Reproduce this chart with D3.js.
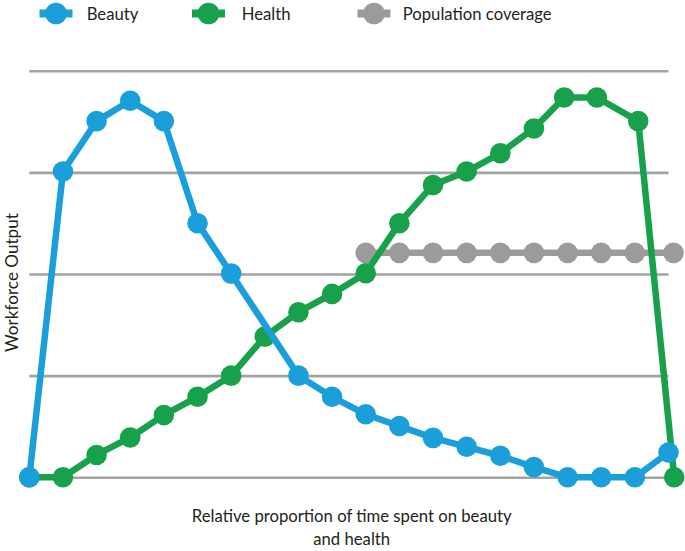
<!DOCTYPE html>
<html>
<head>
<meta charset="utf-8">
<script src="https://cdn.jsdelivr.net/npm/d3@7"></script>
<style>
  html, body { margin: 0; padding: 0; background: #fff; }
  svg { display: block; }
  text { font-family: Lato, "Open Sans", sans-serif; fill: #231f20; }
</style>
</head>
<body>
<svg id="chart" width="685" height="551"></svg>
<script>
// ---- data ----
const seriesNames = ["Beauty", "Health", "Population coverage"];
const seriesColors = ["#1a9fda", "#17a14b", "#9b9b9b"];

const beautyX = [0, 1, 2, 3, 4, 5, 6, 8, 9, 10, 11, 12, 13, 14, 15, 16, 17, 18, 19];
const beautyY = [0, 75.2, 87.6, 92.6, 87.6, 62.5, 50.1, 25, 19.8, 15.5, 12.6, 9.7, 7.5, 5.3, 2.5, 0, 0, 0, 6.1];

const healthX = [0, 1, 2, 3, 4, 5, 6, 7, 8, 9, 10, 11, 12, 13, 14, 15, 15.9, 16.87, 18.1, 19.17];
const healthY = [0, 0, 5.5, 9.8, 15.3, 19.8, 25, 34.6, 40.6, 45.1, 50.2, 62.5, 71.9, 75.2, 79.7, 85.8, 93.4, 93.4, 87.6, 0];

const popX = [10, 11, 12, 13, 14, 15, 16, 17, 18, 19.15];
const popY = [55.2, 55.2, 55.2, 55.2, 55.2, 55.2, 55.2, 55.2, 55.2, 55.2];

const gridTicks = [0, 25, 50, 75, 100];
const xTitleLines = ["Relative proportion of time spent on beauty", "and health"];
const yTitle = "Workforce Output";

// ---- layout ----
const svg = d3.select("#chart");
const x = d3.scaleLinear().domain([0, 19]).range([29.3, 668.5]);
const y = d3.scaleLinear().domain([0, 100]).range([477.3, 70.7]);

// gridlines via axis
const yAxis = d3.axisLeft(y).tickValues(gridTicks).tickSize(-(x.range()[1] - x.range()[0])).tickFormat("");
const gAxis = svg.append("g").attr("transform", `translate(${x.range()[0]},0)`).call(yAxis);
gAxis.select(".domain").remove();
gAxis.selectAll(".tick line").attr("stroke", "#a3a3a3").attr("stroke-width", 2.6);

const series = [
  { name: seriesNames[2], color: seriesColors[2], xs: popX, ys: popY },
  { name: seriesNames[1], color: seriesColors[1], xs: healthX, ys: healthY },
  { name: seriesNames[0], color: seriesColors[0], xs: beautyX, ys: beautyY }
];

const line = d3.line().x(d => x(d[0])).y(d => y(d[1]));

series.forEach(s => {
  const pts = s.xs.map((v, i) => [v, s.ys[i]]);
  const g = svg.append("g");
  g.append("path").datum(pts)
    .attr("d", line)
    .attr("fill", "none")
    .attr("stroke", s.color)
    .attr("stroke-width", 6.5)
    .attr("stroke-linejoin", "round");
  g.selectAll("circle").data(pts).join("circle")
    .attr("cx", d => x(d[0]))
    .attr("cy", d => y(d[1]))
    .attr("r", 10.3)
    .attr("fill", s.color);
});

// ---- legend ----
const legendItems = [
  { name: seriesNames[0], color: seriesColors[0], cx: 56, tx: 86.7 },
  { name: seriesNames[1], color: seriesColors[1], cx: 208.5, tx: 241.7 },
  { name: seriesNames[2], color: seriesColors[2], cx: 374, tx: 402.7 }
];
const legend = svg.append("g");
legendItems.forEach(it => {
  const g = legend.append("g");
  g.append("line").attr("x1", it.cx - 16.5).attr("x2", it.cx + 16.5)
    .attr("y1", 13.5).attr("y2", 13.5)
    .attr("stroke", it.color).attr("stroke-width", 8);
  g.append("circle").attr("cx", it.cx).attr("cy", 13.5).attr("r", 10.8).attr("fill", it.color);
  g.append("text").attr("class", "leg").attr("x", it.tx).attr("y", 19.5).text(it.name);
});

function fitSize(sel, target) {
  sel.style("font-size", "20px");
  const w = sel.node().getComputedTextLength();
  return 20 * target / w;
}
const legTexts = legend.selectAll("text.leg");
const legSize = fitSize(legTexts.filter((d, i) => i === 2), 149);
legTexts.style("font-size", legSize + "px");

// ---- axis titles ----
const xt = svg.append("g").attr("class", "xtitle");
xTitleLines.forEach((t, i) => {
  xt.append("text").attr("x", 351.7).attr("y", 522 + i * 22.7)
    .attr("text-anchor", "middle").text(t);
});
const xtSize = fitSize(xt.select("text"), 320);
xt.selectAll("text").style("font-size", xtSize + "px");

const yt = svg.append("text")
  .attr("transform", "translate(17.5,282.5) rotate(-90)")
  .attr("text-anchor", "middle")
  .text(yTitle);
const ytSize = fitSize(yt, 139);
yt.style("font-size", ytSize + "px");
</script>
</body>
</html>
